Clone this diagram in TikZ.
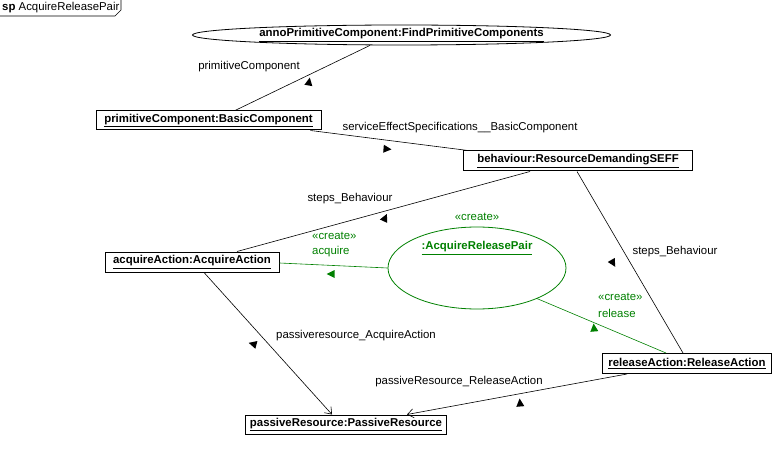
\documentclass[tikz,border=0pt]{standalone}
\usepackage{fontspec}
\setmainfont{Liberation Sans}
\usetikzlibrary{shapes.geometric,arrows.meta}
\definecolor{umlgreen}{RGB}{0,128,0}

\tikzset{
  every node/.style={font=\fontsize{11.4}{13}\selectfont, inner sep=0pt},
  obj/.style={draw, line width=1pt, rectangle, minimum height=19pt, font=\fontsize{11.4}{13}\selectfont\bfseries},
  conn/.style={draw, line width=0.6pt},
  gconn/.style={draw=umlgreen, line width=0.6pt},
  openhead/.style={-{Straight Barb[length=6pt,width=9pt,line width=0.6pt]}},
  glabel/.style={text=umlgreen},
  dirmark/.pic={\fill (4.5pt,0pt) -- (-3.5pt,4pt) -- (-3.5pt,-4pt) -- cycle;}
}

\begin{document}
\begin{tikzpicture}[x=1pt,y=-1pt]
\useasboundingbox (0,0) rectangle (783,454);

% diagram frame tab
\node[anchor=west] (frm) at (2,8) {\textbf{sp} AcquireReleasePair};
\draw[line width=0.6pt] (0,16) -- (115,16) -- (121,10) -- (121,0);

% objects
\node[obj, ellipse, line width=0.8pt, minimum width=418pt, minimum height=20pt] (anno) at (401.5,35)
  {\underline{annoPrimitiveComponent:FindPrimitiveComponents}};
\node[obj, minimum width=225pt] (pc) at (208.5,120.5) {\underline{primitiveComponent:BasicComponent}};
\node[obj, minimum width=229pt, minimum height=20pt] (beh) at (578,161) {\underline{behaviour:ResourceDemandingSEFF}};
\node[obj, minimum width=174pt, minimum height=20pt] (acq) at (192,262) {\underline{acquireAction:AcquireAction}};
\node[obj, minimum width=169pt, minimum height=20pt] (rel) at (687,363.5) {\underline{releaseAction:ReleaseAction}};
\node[obj, minimum width=201pt] (pr) at (346,424.5) {\underline{passiveResource:PassiveResource}};
\node[draw=umlgreen, line width=0.8pt, ellipse, minimum width=178pt, minimum height=82pt,
      label={[glabel, yshift=6pt]above:\guillemotleft create\guillemotright},
      label={[glabel, font=\fontsize{11.4}{13}\selectfont\bfseries, yshift=20pt]center:\underline{:AcquireReleasePair}}]
  (arp) at (477,268) {};

% links
\draw[conn] ([xshift=-31.5pt]anno.south) -- ([xshift=26.5pt]pc.north);
\draw[conn] ([xshift=102pt]pc.south) -- ([xshift=-110pt]beh.north);
\draw[conn] ([xshift=-48pt]beh.south) -- ([xshift=45pt]acq.north);
\draw[conn] ([xshift=-1pt]beh.south) -- ([xshift=-4pt]rel.north);
\draw[conn, openhead] ([xshift=12pt]acq.south) -- ([xshift=-14pt]pr.north);
\draw[conn, openhead] ([xshift=-60pt]rel.south) -- ([xshift=61pt]pr.north);
\draw[gconn] (arp.west) -- ([yshift=-1pt]acq.east);
\draw[gconn] (arp.-27) -- ([xshift=-21pt]rel.north);

% link labels
\node (l1) at (249,67) {primitiveComponent};
\node (l2) at (460,128) {serviceEffectSpecifications\_\_BasicComponent};
\node (l3) at (350,199) {steps\_Behaviour};
\node (l4) at (675,252) {steps\_Behaviour};
\node (l5) at (356,336) {passiveresource\_AcquireAction};
\node (l6) at (459,382) {passiveResource\_ReleaseAction};
\node[glabel, anchor=west] (g1) at (312,236) {\guillemotleft create\guillemotright};
\node[glabel, anchor=west] (g2) at (312,252) {acquire};
\node[glabel, anchor=west] (g3) at (598,297) {\guillemotleft create\guillemotright};
\node[glabel, anchor=west] (g4) at (598,313) {release};

% reading direction marks
\pic[rotate=80] at (309,82) {dirmark};
\pic[rotate=-5] at (387,149) {dirmark};
\pic[rotate=65] at (385,218) {dirmark};
\pic[rotate=-60] at (613,263) {dirmark};
\pic[rotate=165] at (253,344) {dirmark};
\pic[rotate=95] at (520,403) {dirmark};
\pic[rotate=180, fill=umlgreen] at (331,274) {dirmark};
\pic[rotate=95, fill=umlgreen] at (594,328) {dirmark};
\end{tikzpicture}
\end{document}
